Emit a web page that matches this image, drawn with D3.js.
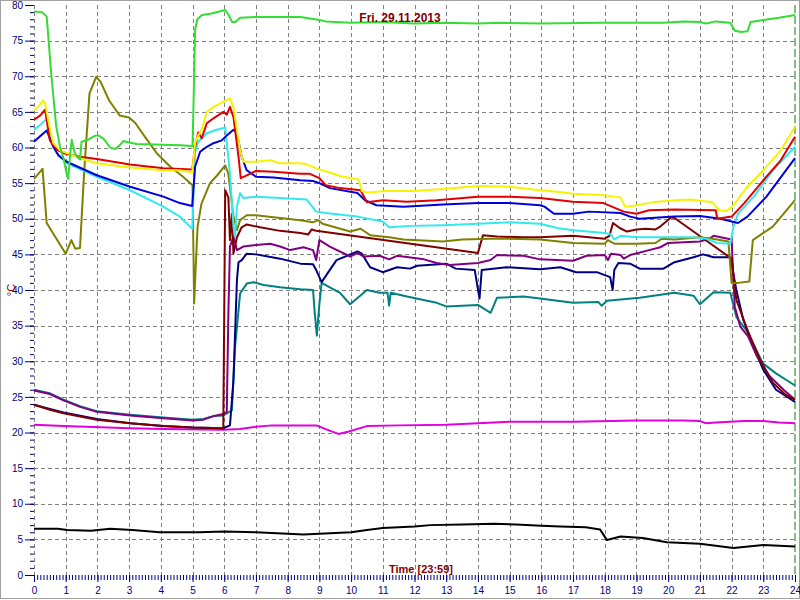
<!DOCTYPE html>
<html><head><meta charset="utf-8">
<script src="https://cdn.jsdelivr.net/npm/d3@7"></script>
<style>body{margin:0;background:#fff}svg{display:block}text{font-family:"Liberation Sans",Arial,sans-serif}</style>
</head><body><svg id="c" width="800" height="600"></svg>
<script>
const title = "Fri. 29.11.2013";
const xTitle = "Time [23:59]";
const yTitle = "°C";
const xTicks = d3.range(0, 25);
const yTicks = d3.range(0, 85, 5);

const green = [[0,79.1],[0.25,79.0],[0.4,78.4],[0.55,70],[0.7,63],[0.82,60.1],[0.93,58.5],[1.03,56.3],[1.08,55.6],[1.14,59],[1.19,61.1],[1.27,59.5],[1.35,58.7],[1.45,58.3],[1.5,60.8],[1.71,61.1],[1.9,61.6],[2.03,61.7],[2.2,61.2],[2.4,60.0],[2.56,59.8],[2.7,60.3],[2.82,60.9],[3.0,60.7],[3.24,60.5],[4.08,60.4],[4.6,60.3],[5.0,60.2],[5.04,68],[5.08,76.5],[5.15,78.0],[5.3,78.6],[5.6,78.8],[6.03,79.3],[6.15,78.5],[6.25,77.6],[6.35,77.6],[6.5,78.2],[7.0,78.3],[8.4,78.3],[9.0,77.9],[9.2,77.7],[9.97,77.5],[11,77.6],[12,77.4],[12.9,77.5],[14,77.4],[14.7,77.5],[16,77.4],[17.85,77.5],[19.85,77.5],[20.5,77.7],[21.0,77.6],[21.2,77.4],[21.5,77.7],[21.96,77.5],[22.1,76.4],[22.3,76.2],[22.5,76.3],[22.6,77.6],[23.0,77.9],[23.5,78.2],[24,78.6]];
const yellow = [[0,65.2],[0.15,65.8],[0.29,66.6],[0.35,66.2],[0.45,63.8],[0.61,60.6],[0.82,59.6],[1.45,58.5],[1.98,57.8],[3.03,57.2],[4.08,56.8],[4.6,56.8],[4.99,56.5],[5.08,60.6],[5.18,61.7],[5.29,62.5],[5.45,65.0],[5.66,65.7],[5.97,66.4],[6.18,66.9],[6.29,65.7],[6.5,59.6],[6.6,58.0],[7.0,58.0],[7.45,58.2],[7.76,57.8],[8.4,57.8],[8.55,57.7],[9.02,56.9],[9.33,56.5],[9.65,56.0],[10.23,55.5],[10.34,53.9],[10.5,53.7],[11.1,53.9],[11.97,53.9],[13.0,54.2],[14.0,54.6],[15.0,54.5],[15.96,54.0],[16.5,53.8],[17.0,53.5],[17.96,53.3],[18.5,53.0],[18.64,51.7],[19.0,51.9],[19.5,52.3],[20.2,52.6],[20.7,52.7],[21.4,52.3],[21.6,51.2],[21.85,51.1],[22.06,51.9],[22.5,54.5],[23.0,56.8],[23.55,59.6],[24,62.9]];
const red = [[0,63.9],[0.2,64.5],[0.35,65.3],[0.5,61.0],[0.72,59.7],[0.93,59.2],[1.45,58.7],[1.98,58.4],[3.03,57.6],[4.08,57.1],[4.99,56.9],[5.08,60.1],[5.18,62.1],[5.29,61.3],[5.45,63.4],[5.66,64.1],[5.97,65.0],[6.08,64.6],[6.18,65.7],[6.29,64.3],[6.45,58.7],[6.52,55.7],[6.71,56.1],[7.0,56.7],[7.55,56.6],[8.4,56.3],[8.7,56.3],[9.0,55.7],[9.2,54.7],[9.65,54.3],[10.3,54.0],[10.5,52.3],[11.0,52.6],[11.76,52.4],[12.7,52.6],[14.0,53.1],[15.0,53.1],[15.96,52.9],[17.0,52.4],[17.96,52.2],[18.6,51.0],[19.0,50.7],[19.4,51.2],[20.2,51.3],[21.5,51.2],[21.55,50.0],[22.0,50.3],[22.4,52.2],[23.0,55.4],[23.55,58.2],[24,61.5]];
const cyan = [[0,62.5],[0.2,63.2],[0.4,64.0],[0.56,60.6],[0.72,59.2],[1.03,57.8],[1.98,55.9],[3.03,54.0],[4.08,51.7],[4.6,50.3],[4.99,48.6],[5.08,59.4],[5.18,60.8],[5.45,62.0],[5.76,62.5],[6.03,62.8],[6.08,60.6],[6.18,56.4],[6.29,48.9],[6.34,47.5],[6.4,51.7],[6.5,53.6],[6.6,52.9],[7.0,53.1],[7.76,52.9],[8.6,52.7],[8.9,51.0],[9.2,50.8],[10.2,50.3],[11.0,49.6],[11.2,48.8],[11.86,49.0],[12.9,49.1],[14.0,49.3],[15.0,49.5],[15.96,49.3],[16.5,48.7],[17.0,48.4],[18.0,48.0],[18.2,47.8],[18.3,47.1],[18.5,47.6],[19.0,47.4],[20.2,47.4],[20.8,47.4],[21.2,47.2],[21.55,46.6],[21.96,46.5],[22.06,48.9],[22.2,50.7],[22.7,53.1],[23.3,56.8],[24,60.1]];
const blue = [[0,60.8],[0.2,61.6],[0.4,62.4],[0.61,60.1],[0.77,58.9],[1.03,58.0],[1.98,56.1],[3.03,54.5],[4.08,53.1],[4.6,52.2],[4.99,51.8],[5.08,57.3],[5.24,59.4],[5.45,60.1],[5.66,60.6],[5.92,61.0],[6.08,61.7],[6.29,62.5],[6.4,62.0],[6.55,58.7],[6.71,56.8],[7.0,55.9],[7.55,55.8],[8.4,55.4],[8.8,55.3],[9.0,55.0],[9.33,54.3],[10.2,53.6],[10.44,52.6],[10.8,51.9],[11.65,51.7],[12.9,52.0],[14.0,52.2],[15.0,52.2],[15.96,51.9],[16.1,51.7],[16.4,50.7],[17.0,50.7],[17.5,51.0],[18.5,50.8],[18.8,50.3],[19.1,50.0],[20.2,50.3],[21.0,50.4],[21.65,50.0],[22.2,49.4],[22.5,50.3],[23.1,53.1],[24,58.5]];
const olive = [[0,55.6],[0.27,57.0],[0.4,49.4],[1.0,45.1],[1.18,47.0],[1.3,45.8],[1.45,45.9],[1.58,56.4],[1.75,67.6],[1.96,69.9],[2.1,69.2],[2.37,66.6],[2.7,64.5],[3.0,64.2],[3.2,63.4],[3.5,61.5],[3.87,59.2],[4.3,57.3],[4.7,55.9],[5.0,54.7],[5.05,38.1],[5.1,43.3],[5.16,48.9],[5.28,52.1],[5.55,55.0],[5.76,56.0],[6.03,57.5],[6.13,56.3],[6.29,50.3],[6.4,48.4],[6.5,49.8],[6.71,50.5],[7.0,50.5],[7.76,50.1],[8.4,49.8],[8.8,49.5],[8.97,49.8],[9.1,49.3],[9.97,48.2],[10.3,48.6],[10.6,47.7],[11.2,47.4],[11.65,47.1],[12.9,46.8],[13.5,47.1],[14.4,47.2],[15.0,47.2],[15.96,47.1],[17.0,46.6],[18.0,46.5],[18.1,47.0],[18.3,46.5],[19.0,46.5],[19.6,46.6],[19.8,47.2],[20.2,47.1],[21.0,47.4],[21.4,47.2],[21.9,46.8],[22.0,41.0],[22.2,41.0],[22.56,41.2],[22.67,47.0],[22.9,47.7],[23.3,48.9],[24,52.6]];
const maroon = [[0,23.9],[0.5,23.2],[0.93,22.7],[1.98,21.8],[3.03,21.3],[4.08,20.9],[5.0,20.7],[5.97,20.6],[6.03,54.0],[6.13,53.0],[6.18,47.0],[6.24,50.7],[6.29,45.1],[6.4,47.4],[6.55,48.8],[6.71,49.2],[7.13,48.8],[7.76,48.3],[8.4,48.0],[8.65,47.8],[8.76,48.5],[8.9,48.3],[14.0,45.2],[14.16,47.7],[14.6,47.5],[15.44,47.4],[15.96,47.4],[17.0,47.6],[17.5,47.4],[18.0,47.2],[18.15,47.6],[18.26,49.4],[18.47,48.7],[18.7,48.2],[19.0,48.5],[19.3,48.6],[19.6,48.5],[19.75,48.9],[20.1,50.2],[20.2,50.1],[22.0,44.4],[22.15,38.6],[22.5,34.4],[22.9,30.2],[23.3,27.0],[23.7,25.3],[24,24.6]];
const purple = [[0,25.9],[0.5,25.4],[0.93,24.5],[1.45,23.6],[1.98,22.9],[3.03,22.4],[4.08,22.0],[5.0,21.7],[5.34,21.8],[5.66,22.3],[5.97,22.6],[6.08,22.9],[6.13,36.7],[6.18,46.1],[6.29,47.5],[6.4,45.6],[6.6,46.1],[7.0,46.3],[7.45,46.5],[7.76,46.1],[8.08,45.6],[8.5,46.0],[8.8,45.6],[8.9,44.2],[9.0,47.0],[9.33,46.1],[9.97,44.7],[10.2,45.2],[10.4,44.7],[10.9,44.8],[11.2,44.3],[11.45,44.8],[12.3,44.3],[12.7,43.8],[13.1,43.5],[14.0,43.8],[14.4,44.2],[14.6,44.9],[15.44,44.8],[15.96,44.3],[17.0,44.1],[17.43,44.8],[18.0,44.9],[18.1,44.2],[18.2,45.1],[18.5,44.9],[18.6,44.4],[18.8,44.9],[19.4,45.6],[19.75,46.0],[20.0,46.6],[21.0,46.8],[21.3,47.2],[21.43,47.6],[22.0,47.1],[22.1,37.7],[22.27,34.9],[22.52,33.5],[22.8,30.7],[23.2,27.9],[23.64,26.0],[24,24.6]];
const navy = [[0,23.9],[0.5,23.3],[0.93,22.8],[1.98,21.9],[3.03,21.3],[4.08,20.9],[5.0,20.7],[5.97,20.6],[6.18,21.0],[6.29,27.3],[6.4,41.4],[6.45,43.9],[6.55,44.2],[6.71,45.1],[7.0,45.0],[7.76,44.4],[8.4,43.7],[8.8,43.6],[8.9,42.8],[9.07,41.1],[9.54,44.2],[10.2,45.4],[10.34,45.1],[10.6,43.2],[11.0,42.5],[11.45,43.2],[11.86,43.0],[12.08,43.4],[13.0,43.7],[13.3,43.0],[13.9,42.8],[14.05,38.8],[14.12,42.8],[14.9,43.2],[15.96,42.9],[16.6,43.2],[17.1,42.5],[17.75,42.5],[18.17,41.8],[18.25,40.0],[18.3,42.8],[18.43,43.8],[18.8,43.7],[19.1,43.0],[19.85,43.0],[20.2,43.9],[20.8,44.6],[21.1,45.0],[21.43,44.6],[21.96,44.6],[22.15,40.0],[22.37,35.8],[22.69,32.0],[23.0,28.8],[23.4,26.0],[24,24.3]];
const teal = [[0,26.0],[0.5,25.5],[0.93,24.6],[1.45,23.7],[1.98,23.0],[3.03,22.5],[4.08,22.1],[5.0,21.8],[5.34,21.9],[5.66,22.3],[5.97,22.4],[6.24,23.1],[6.34,32.0],[6.5,39.5],[6.71,40.9],[6.92,41.1],[7.24,40.7],[7.76,40.4],[8.4,40.1],[8.8,40.0],[8.85,37],[8.92,33.6],[9.0,38],[9.07,41.0],[9.65,39.6],[9.97,38.0],[10.5,40.0],[10.9,39.6],[11.15,39.6],[11.2,37.8],[11.25,39.6],[11.76,39.1],[12.7,38.2],[13.0,37.7],[14.0,37.9],[14.4,36.8],[14.6,38.9],[15.44,39.1],[15.96,38.8],[17.0,38.2],[17.8,38.3],[17.9,37.8],[18.07,38.5],[19.1,38.9],[20.2,39.6],[20.8,39.2],[21.0,38.0],[21.43,39.7],[21.96,39.6],[22.15,36.2],[22.46,34.4],[22.78,31.6],[22.99,29.7],[23.4,28.3],[24,26.6]];
const magenta = [[0,21.1],[0.93,20.9],[3.03,20.6],[4.08,20.5],[5.97,20.4],[6.5,20.5],[7.0,20.8],[7.5,21.0],[8.5,21.0],[8.9,21.0],[9.3,20.3],[9.6,19.8],[9.9,20.1],[10.5,20.9],[11.5,21.0],[13,21.1],[15,21.5],[17,21.5],[19,21.7],[20.5,21.7],[21.0,21.6],[21.2,21.3],[21.5,21.4],[22.4,21.6],[23,21.6],[23.5,21.4],[24,21.3]];
const black = [[0,6.5],[0.75,6.5],[1.05,6.3],[1.8,6.2],[2.4,6.5],[3.1,6.3],[3.97,6.0],[5.2,6.0],[6.0,6.1],[7,6.0],[8,5.8],[8.5,5.7],[9.5,5.9],[10,6.0],[10.5,6.3],[11,6.6],[12,6.8],[12.5,7.0],[13.5,7.1],[14.5,7.2],[15.2,7.1],[16,6.9],[16.6,6.8],[17.4,6.7],[17.85,6.4],[18.07,4.9],[18.5,5.4],[19.2,5.2],[19.96,4.6],[21.0,4.4],[22.06,3.8],[23.0,4.2],[24,4.0]];

const seriesNames = ["black","magenta","teal","navy","purple","maroon","olive","cyan","blue","red","yellow","green"];
const seriesData = [black,magenta,teal,navy,purple,maroon,olive,cyan,blue,red,yellow,green];
const seriesColors = ["#000000","#e000e0","#008080","#000080","#800080","#800000","#808000","#33e8ee","#0000dd","#e00000","#f4f400","#33dd33"];

const W = 800, H = 600;
const m = {left:34, right:5, top:5, bottom:25};
const svg = d3.select("#c");
const x = d3.scaleLinear().domain([0,24]).range([m.left, W - m.right]);
const y = d3.scaleLinear().domain([0,80]).range([H - m.bottom, m.top]);

svg.append("rect").attr("x",0.5).attr("y",0.5).attr("width",W-1).attr("height",H-2)
  .attr("fill","#fff").attr("stroke","#a0a0a0");

// grid
const g = svg.append("g");
g.selectAll("line.v").data(xTicks.filter(d=>d<24)).join("line")
  .attr("x1",d=>Math.round(x(d))+0.5).attr("x2",d=>Math.round(x(d))+0.5)
  .attr("y1",y(80)).attr("y2",y(0)).attr("stroke","#808080").attr("stroke-dasharray","4,3");
g.selectAll("line.h").data(yTicks.filter(d=>d>0&&d<80)).join("line")
  .attr("y1",d=>Math.round(y(d))+0.5).attr("y2",d=>Math.round(y(d))+0.5)
  .attr("x1",x(0)).attr("x2",x(24)).attr("stroke","#808080").attr("stroke-dasharray","4,3");

// axes
const xMinor = svg.append("g").attr("transform",`translate(0,${y(0)})`)
  .call(d3.axisBottom(x).tickValues(d3.range(0,241).map(i=>i/10)).tickSize(5).tickFormat(""));
const xMajor = svg.append("g").attr("transform",`translate(0,${y(0)})`)
  .call(d3.axisBottom(x).tickValues(xTicks).tickSize(7).tickPadding(5).tickFormat(d3.format("d")));
const yMinor = svg.append("g").attr("transform",`translate(${x(0)},0)`)
  .call(d3.axisLeft(y).tickValues(d3.range(0,81)).tickSize(4).tickFormat(""));
const yMajor = svg.append("g").attr("transform",`translate(${x(0)},0)`)
  .call(d3.axisLeft(y).tickValues(yTicks).tickSize(9).tickPadding(2).tickFormat(d3.format("d")));
[xMinor,xMajor,yMinor,yMajor].forEach(a=>{
  a.select(".domain").remove();
  a.selectAll(".tick line").attr("stroke","#000080");
  a.selectAll("text").attr("fill","#000080").style("font-size","10px").style("font-family","'Liberation Sans',Arial,sans-serif");
});

// current-time marker
svg.append("line").attr("x1",x(24)).attr("x2",x(24)).attr("y1",y(80)).attr("y2",y(0))
  .attr("stroke","#008000").attr("stroke-dasharray","8,3").attr("stroke-width",1);

// lines
const line = d3.line().x(d=>x(d[0])).y(d=>y(d[1]));
svg.append("g").selectAll("path").data(seriesData).join("path")
  .attr("d",line).attr("fill","none")
  .attr("stroke",(d,i)=>seriesColors[i]).attr("stroke-width",2)
  .attr("stroke-linejoin","round");

// texts
svg.append("text").attr("x",400).attr("y",22).attr("text-anchor","middle")
  .attr("fill","#800000").style("font-weight","bold").style("font-size","12px").text(title);
svg.append("text").attr("x",421).attr("y",573).attr("text-anchor","middle")
  .attr("fill","#800000").style("font-weight","bold").style("font-size","11px").text(xTitle);
svg.append("text").attr("transform","translate(15,290) rotate(-90)").attr("text-anchor","middle")
  .attr("fill","#800000").style("font-size","11px").text(yTitle);
</script></body></html>
